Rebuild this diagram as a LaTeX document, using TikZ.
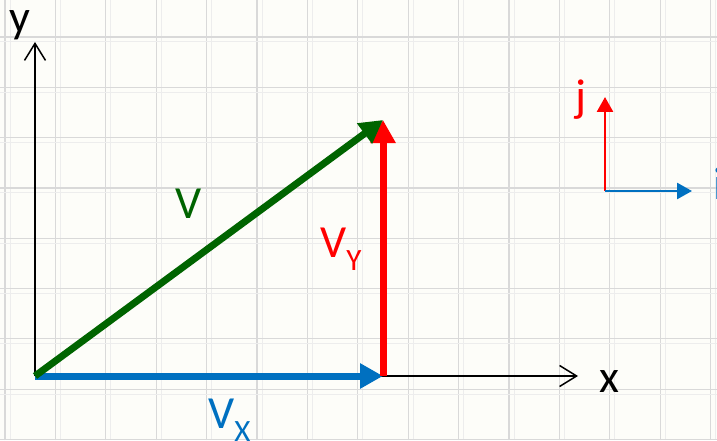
\documentclass[tikz,border=0pt]{standalone}
\usepackage{fontspec}
\setmainfont{Carlito}
\usetikzlibrary{arrows.meta, positioning}
\definecolor{vgreen}{RGB}{0,100,0}
\definecolor{vblue}{RGB}{0,112,192}
\definecolor{paper}{RGB}{253,253,249}
\newcommand{\lowsub}[1]{\raisebox{-13pt}{\fontsize{31}{31}\selectfont #1}}

\begin{document}
\begin{tikzpicture}[x=1pt, y=1pt,
    lbl/.style={inner sep=0, font=\fontsize{46}{46}\selectfont},
    axis/.style={line width=1.5pt, -{Straight Barb[length=17pt, width=21pt]}},
    vec/.style={line width=7pt, -{Triangle[length=23pt, width=24pt]}},
    unitvec/.style={line width=2.7pt, -{Triangle[length=15pt, width=16pt]}}]

    % giấy kẻ ô
    \fill[paper] (0,0) rectangle (717,440);
    \useasboundingbox (0,0) rectangle (717,440);
    \foreach \i in {0,...,14} {
        \draw[gray!14, line width=1pt] ({10+50.4*\i},0) -- ++(0,440);
        \draw[gray!30, line width=1.2pt] ({5+50.4*\i},0) -- ++(0,440);
    }
    \foreach \j in {0,...,8} {
        \draw[gray!14, line width=1pt] (0,{398-50.3*\j}) -- ++(717,0);
        \draw[gray!30, line width=1.2pt] (0,{403-50.3*\j}) -- ++(717,0);
    }

    \coordinate (O) at (35,64);
    \coordinate (Ytop) at (35,398);
    \coordinate (Xend) at (578,64);
    \coordinate (A) at (383,320);
    \coordinate (B) at (383,64);
    \coordinate (P) at (605,249);
    \coordinate (J) at (605,343);
    \coordinate (I) at (692,249);

    % trục toạ độ
    \draw[axis] (O) -- (Ytop);
    \draw[axis] (O) -- (Xend);
    \node[lbl, anchor=base west] (ylab) at (9,407) {y};
    \node[lbl, anchor=base west] (xlab) at (599,48) {x};

    % vectơ V và hai thành phần
    \draw[vec, vblue] (O) -- (B);
    \draw[vec, red] (B) -- (A);
    \draw[vec, vgreen] (O) -- (A);
    \node[lbl, vgreen] (vlab) at (189,236) {V};
    \node[lbl, red, anchor=base west] (vylab) at (320,183) {V\lowsub{Y}};
    \node[lbl, vblue, anchor=base west] (vxlab) at (208,12) {V\lowsub{X}};

    % vectơ đơn vị
    \draw[unitvec, red] (P) -- (J);
    \draw[unitvec, vblue] (P) -- (I);
    \node[lbl, red, anchor=base west] (jlab) at (575,328) {j};
    \node[lbl, vblue, anchor=base west] (ilab) at (713,241) {i};

\end{tikzpicture}
\end{document}
